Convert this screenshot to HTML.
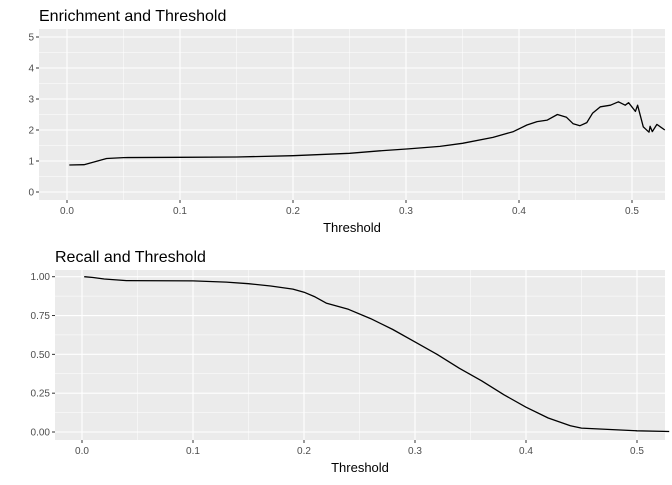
<!DOCTYPE html>
<html><head><meta charset="utf-8"><style>
body{margin:0;background:#fff;font-family:"Liberation Sans",sans-serif}
svg text{font-family:"Liberation Sans",sans-serif}
</style></head><body>
<svg id="c" width="672" height="480" xmlns="http://www.w3.org/2000/svg"></svg>
<script>
const enrichX=[0.002,0.015,0.025,0.035,0.05,0.1,0.15,0.2,0.25,0.277,0.302,0.33,0.35,0.377,0.395,0.407,0.416,0.425,0.434,0.442,0.448,0.454,0.46,0.465,0.472,0.481,0.488,0.494,0.497,0.503,0.505,0.51,0.515,0.516,0.518,0.522,0.529];
const enrichY=[0.87,0.88,0.98,1.08,1.11,1.12,1.13,1.17,1.25,1.33,1.39,1.47,1.57,1.76,1.95,2.16,2.27,2.32,2.5,2.41,2.2,2.14,2.24,2.54,2.75,2.8,2.91,2.8,2.88,2.6,2.8,2.1,1.93,2.12,1.95,2.18,2.0];
const recallX=[0.002,0.01,0.02,0.04,0.1,0.13,0.15,0.17,0.19,0.2,0.21,0.22,0.24,0.26,0.28,0.3,0.32,0.34,0.36,0.38,0.4,0.42,0.44,0.45,0.5,0.529];
const recallY=[1.0,0.995,0.985,0.975,0.973,0.965,0.955,0.94,0.92,0.9,0.87,0.83,0.79,0.73,0.66,0.58,0.5,0.41,0.33,0.24,0.16,0.09,0.04,0.025,0.008,0.003];
const xTicks=[0,0.1,0.2,0.3,0.4,0.5];
const enrichTicks=[0,1,2,3,4,5];
const recallTicks=[0,0.25,0.5,0.75,1];
const recallLabels=["0.00","0.25","0.50","0.75","1.00"];

const svg=document.getElementById('c');
const NS="http://www.w3.org/2000/svg";
function mk(tag,attrs,parent){const e=document.createElementNS(NS,tag);for(const k in attrs)e.setAttribute(k,attrs[k]);(parent||svg).appendChild(e);return e;}

function panel(p){
  const g=mk('g',{});
  
  
  const sx=v=>p.x0+v*p.xs, sy=v=>p.y0-v*p.ys;
  const bg=mk('rect',{x:p.left,y:p.top,width:p.right-p.left,height:p.bottom-p.top,fill:'#ebebeb'},g);
  
  
  for(let i=0;i<xTicks.length;i++){const v=xTicks[i]+0.05;const x=sx(v);if(x<p.right)mk('line',{x1:x,x2:x,y1:p.top,y2:p.bottom,stroke:'#fff','stroke-width':0.5},g);}
  for(let i=0;i<p.yt.length-1;i++){const v=(p.yt[i]+p.yt[i+1])/2;mk('line',{x1:p.left,x2:p.right,y1:sy(v),y2:sy(v),stroke:'#fff','stroke-width':0.5},g);}
  xTicks.forEach(v=>{const x=sx(v);
    mk('line',{x1:x,x2:x,y1:p.top,y2:p.bottom,stroke:'#fff','stroke-width':1.1},g);
    mk('line',{x1:x,x2:x,y1:p.bottom,y2:p.bottom+3,stroke:'#333','stroke-width':1},g);
    const t=mk('text',{x:x,y:p.bottom+14,'font-size':10,fill:'#4d4d4d','text-anchor':'middle'},g);t.textContent=v.toFixed(1);
    
    
  });
  p.yt.forEach((v,i)=>{const y=sy(v);
    mk('line',{x1:p.left,x2:p.right,y1:y,y2:y,stroke:'#fff','stroke-width':1.1},g);
    mk('line',{x1:p.left-3,x2:p.left,y1:y,y2:y,stroke:'#333','stroke-width':1},g);
    const t=mk('text',{x:p.left-5,y:y+3.5,'font-size':10,fill:'#4d4d4d','text-anchor':'end'},g);t.textContent=p.yl[i];
    
    
  });
  const d=p.xs_.map((v,i)=>(i?'L':'M')+sx(v).toFixed(1)+','+sy(p.ys_[i]).toFixed(1)).join('');
  const line=mk('path',{d:d,fill:'none',stroke:'#000','stroke-width':1.3,'stroke-linejoin':'round'},g);
  
  
  const tt=mk('text',{x:p.left,y:p.top-8,'font-size':16,fill:'#000'},g);tt.textContent=p.title;
  
  
  const xt=mk('text',{x:(p.left+p.right)/2,y:p.bottom+32,'font-size':13,fill:'#000','text-anchor':'middle'},g);xt.textContent='Threshold';
  
  
}
panel({name:'enrichment-panel',lineName:'enrichment-line',title:'Enrichment and Threshold',left:39,right:665,top:29,bottom:200,x0:67,xs:1130,y0:192,ys:31,yt:enrichTicks,yl:enrichTicks.map(String),xs_:enrichX,ys_:enrichY});
panel({name:'recall-panel',lineName:'recall-line',title:'Recall and Threshold',left:55,right:665,top:270,bottom:440,x0:82,xs:1110,y0:432,ys:155.3,yt:recallTicks,yl:recallLabels,xs_:recallX,ys_:recallY});
</script>
</body></html>
